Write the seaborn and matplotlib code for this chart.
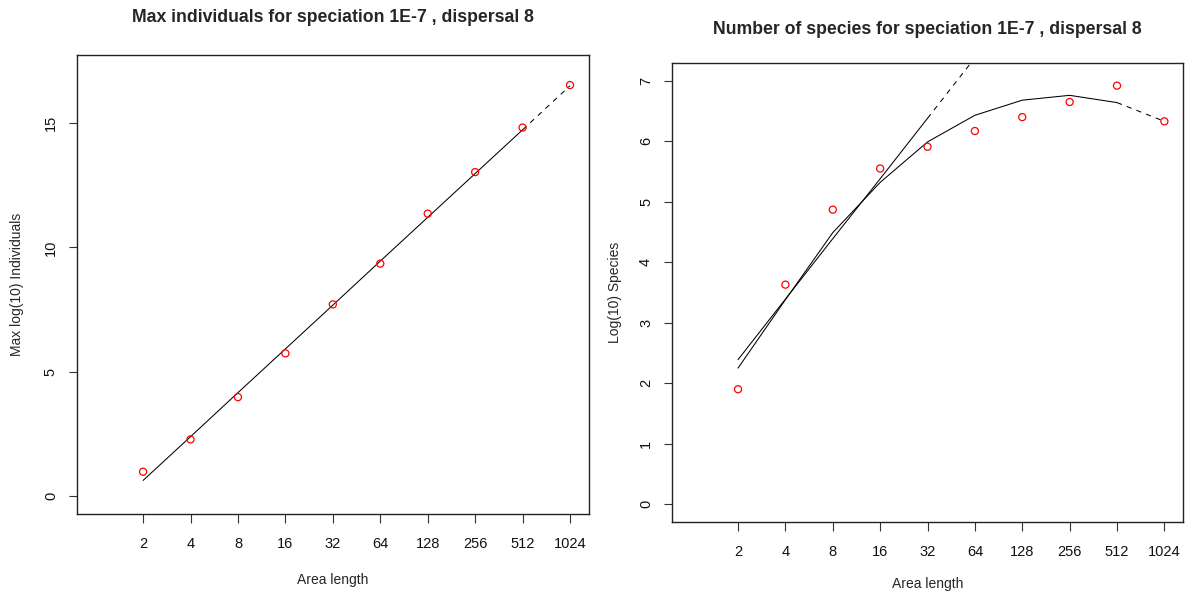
import matplotlib
matplotlib.use("Agg")
import matplotlib.pyplot as plt
import seaborn as sns
import pandas as pd

# ---- data ----
area_exp = [1, 2, 3, 4, 5, 6, 7, 8, 9, 10]
area_labels = ["2", "4", "8", "16", "32", "64", "128", "256", "512", "1024"]

max_individuals = [0.98, 2.28, 3.98, 5.74, 7.71, 9.35, 11.36, 13.03, 14.82, 16.53]
ind_fit = [0.63, 2.39, 4.16, 5.92, 7.68, 9.45, 11.21, 12.97, 14.73, 16.50]

species = [1.90, 3.63, 4.87, 5.55, 5.91, 6.17, 6.40, 6.65, 6.92, 6.33]
species_quad_fit = [2.25, 3.38, 4.49, 5.32, 5.99, 6.43, 6.68, 6.76, 6.64, 6.33]
lin_exp = [1, 2, 3, 4, 5, 6]
species_lin_fit = [2.39, 3.39, 4.39, 5.38, 6.38, 7.38]

left_yticks = [0, 5, 10, 15]
right_yticks = [0, 1, 2, 3, 4, 5, 6, 7]

sns.set_style("ticks")
plt.rcParams["font.family"] = ["Liberation Sans", "DejaVu Sans"]
plt.rcParams["axes.edgecolor"] = "#222222"
plt.rcParams["axes.linewidth"] = 1.0

fig = plt.figure(figsize=(11.87, 5.93), dpi=100)
ax1 = fig.add_axes([0.0646, 0.1332, 0.4316, 0.7741])
ax2 = fig.add_axes([0.5659, 0.1192, 0.4310, 0.7741])

dash = (0, (5, 5))
lw = 0.75
tick_fs = 10.5
label_fs = 10
title_fs = 12.7


def style(ax, xlim, ylim, yticks):
    ax.set_xlim(*xlim)
    ax.set_ylim(*ylim)
    ax.set_xticks(area_exp)
    ax.set_xticklabels(area_labels)
    ax.set_yticks(yticks)
    ax.set_yticklabels([str(t) for t in yticks], rotation=90, va="center")
    for s in ax.spines.values():
        s.set_visible(True)
        s.set_color("#222222")
        s.set_linewidth(1.0)
    ax.tick_params(axis="x", length=6.5, width=0.8, color="#333333",
                   pad=10, labelsize=tick_fs, labelcolor="#111111")
    ax.tick_params(axis="y", length=6, width=0.8, color="#333333",
                   pad=7.5, labelsize=tick_fs, labelcolor="#111111")


# ---- left panel ----
df1 = pd.DataFrame({"x": area_exp, "y": max_individuals, "fit": ind_fit})
sns.lineplot(data=df1.iloc[:9], x="x", y="fit", ax=ax1, color="black", lw=lw)
sns.lineplot(data=df1.iloc[8:], x="x", y="fit", ax=ax1, color="black", lw=lw, linestyle=dash)
sns.scatterplot(data=df1, x="x", y="y", ax=ax1, marker="o", s=26,
                facecolor="none", edgecolor="red", linewidth=0.9, zorder=5)
style(ax1, (-0.4, 10.4), (-0.72, 17.74), left_yticks)
ax1.set_title("Max individuals for speciation 1E-7 , dispersal 8",
              fontsize=title_fs, fontweight="bold", pad=24)
ax1.set_xlabel("Area length", fontsize=label_fs, labelpad=16)
ax1.set_ylabel("Max log(10) Individuals", fontsize=label_fs, labelpad=14)

# ---- right panel ----
df2 = pd.DataFrame({"x": area_exp, "y": species, "fit": species_quad_fit})
df3 = pd.DataFrame({"x": lin_exp, "fit": species_lin_fit})
sns.lineplot(data=df2.iloc[:9], x="x", y="fit", ax=ax2, color="black", lw=lw)
sns.lineplot(data=df2.iloc[8:], x="x", y="fit", ax=ax2, color="black", lw=lw, linestyle=dash)
sns.lineplot(data=df3.iloc[:5], x="x", y="fit", ax=ax2, color="black", lw=lw)
sns.lineplot(data=df3.iloc[4:], x="x", y="fit", ax=ax2, color="black", lw=lw, linestyle=dash)
sns.scatterplot(data=df2, x="x", y="y", ax=ax2, marker="o", s=26,
                facecolor="none", edgecolor="red", linewidth=0.9, zorder=5)
style(ax2, (-0.4, 10.4), (-0.30, 7.29), right_yticks)
ax2.set_title("Number of species for speciation 1E-7 , dispersal 8",
              fontsize=title_fs, fontweight="bold", pad=21)
ax2.set_xlabel("Area length", fontsize=label_fs, labelpad=12.5)
ax2.set_ylabel("Log(10) Species", fontsize=label_fs, labelpad=12)

fig.savefig("out.png", dpi=100)
